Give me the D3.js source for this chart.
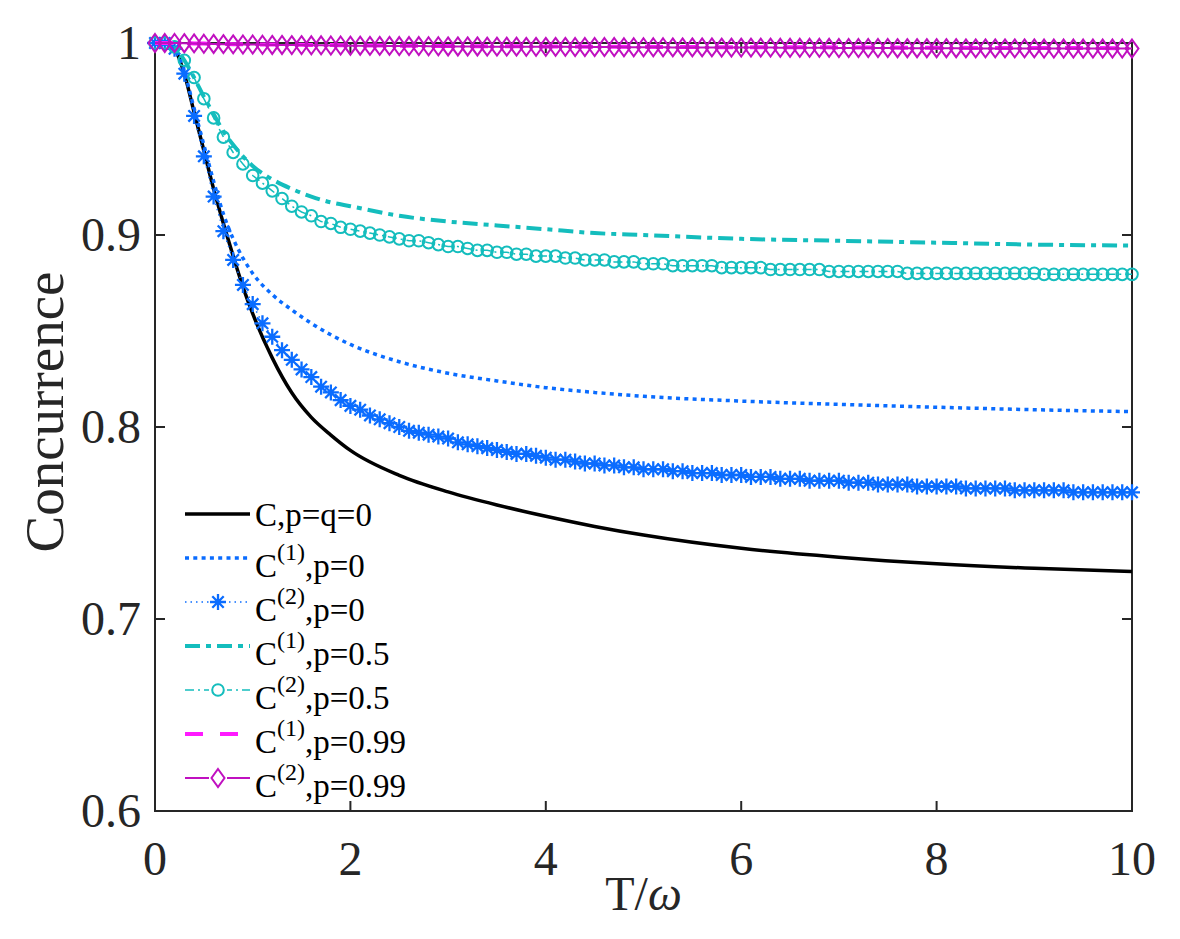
<!DOCTYPE html>
<html>
<head>
<meta charset="utf-8">
<script src="https://cdn.jsdelivr.net/npm/d3@7"></script>
<style>
  body { margin: 0; background: #fff; }
  svg { display: block; font-family: 'Liberation Serif', 'Times New Roman', 'DejaVu Serif', serif; }
</style>
</head>
<body>
<script>
// T/omega sample points
const tCoarse = [0, 0.1, 0.2, 0.3, 0.4, 0.5, 0.6, 0.7, 0.8, 0.9, 1, 1.2, 1.4, 1.6, 1.8, 2, 2.5, 3, 3.5, 4, 4.5, 5, 6, 7, 8, 9, 10]
const tFine = d3.range(101).map(i => i / 10)

// smooth curves, read at tCoarse
const cPq0 = [1, 1, 0.997, 0.984, 0.964, 0.944, 0.924, 0.906, 0.889, 0.873, 0.859, 0.836, 0.8178, 0.805, 0.7958, 0.7878, 0.7748, 0.7662, 0.7594, 0.7535, 0.7482, 0.7437, 0.7368, 0.7322, 0.7288, 0.7264, 0.7247]
const c1p0 = [1, 1, 0.997, 0.985, 0.966, 0.947, 0.928, 0.911, 0.898, 0.888, 0.880, 0.869, 0.861, 0.854, 0.848, 0.843, 0.834, 0.828, 0.824, 0.8205, 0.818, 0.816, 0.8135, 0.8118, 0.8103, 0.809, 0.808]
const c1p05 = [1, 1, 0.998, 0.991, 0.982, 0.972, 0.963, 0.954, 0.947, 0.941, 0.936, 0.929, 0.924, 0.920, 0.917, 0.915, 0.910, 0.907, 0.905, 0.903, 0.901, 0.900, 0.898, 0.897, 0.896, 0.895, 0.8945]
const c1p099 = [1, 1, 1, 0.9999, 0.9998, 0.9997, 0.9996, 0.9995, 0.9994, 0.9994, 0.9993, 0.9992, 0.9991, 0.9990, 0.9989, 0.9988, 0.9986, 0.9984, 0.9983, 0.9982, 0.9981, 0.9980, 0.9978, 0.9977, 0.9975, 0.9974, 0.9973]

// marker curves, read at tFine
const c2p0 = [
  1, 1, 0.997, 0.984, 0.962, 0.941, 0.920, 0.902, 0.887, 0.874,
  0.864, 0.854, 0.847, 0.840, 0.835, 0.830, 0.826, 0.821, 0.818, 0.814,
  0.811, 0.809, 0.806, 0.804, 0.802, 0.800, 0.798, 0.797, 0.796, 0.795,
  0.794, 0.792, 0.791, 0.790, 0.789, 0.788, 0.787, 0.786, 0.786, 0.785,
  0.784, 0.783, 0.783, 0.782, 0.781, 0.781, 0.780, 0.780, 0.779, 0.779,
  0.778, 0.778, 0.778, 0.777, 0.777, 0.776, 0.776, 0.776, 0.775, 0.775,
  0.775, 0.774, 0.774, 0.774, 0.773, 0.773, 0.773, 0.772, 0.772, 0.772,
  0.772, 0.771, 0.771, 0.771, 0.770, 0.770, 0.770, 0.770, 0.769, 0.769,
  0.769, 0.769, 0.769, 0.768, 0.768, 0.768, 0.768, 0.768, 0.767, 0.767,
  0.767, 0.767, 0.767, 0.767, 0.766, 0.766, 0.766, 0.766, 0.766, 0.766,
  0.766
]
const c2p05 = [
  1, 1, 0.998, 0.991, 0.982, 0.971, 0.961, 0.951, 0.943, 0.937,
  0.931, 0.927, 0.923, 0.919, 0.915, 0.912, 0.910, 0.907, 0.906, 0.904,
  0.903, 0.902, 0.901, 0.900, 0.899, 0.898, 0.897, 0.897, 0.896, 0.895,
  0.894, 0.894, 0.893, 0.892, 0.892, 0.891, 0.891, 0.890, 0.890, 0.889,
  0.889, 0.889, 0.888, 0.888, 0.887, 0.887, 0.887, 0.886, 0.886, 0.886,
  0.885, 0.885, 0.885, 0.884, 0.884, 0.884, 0.884, 0.884, 0.883, 0.883,
  0.883, 0.883, 0.883, 0.882, 0.882, 0.882, 0.882, 0.882, 0.882, 0.881,
  0.881, 0.881, 0.881, 0.881, 0.881, 0.881, 0.881, 0.880, 0.880, 0.880,
  0.880, 0.880, 0.880, 0.880, 0.880, 0.880, 0.880, 0.880, 0.880, 0.880,
  0.880, 0.8795, 0.8795, 0.8795, 0.8795, 0.8795, 0.8795, 0.8795, 0.8795, 0.8795,
  0.8795
]
const c2p099 = [
  1, 1, 1, 0.9999, 0.9998, 0.9996, 0.9995, 0.9994, 0.9993, 0.9992,
  0.9992, 0.9991, 0.9990, 0.9990, 0.9989, 0.9989, 0.9988, 0.9988, 0.9987, 0.9987,
  0.9986, 0.9986, 0.9985, 0.9985, 0.9985, 0.9984, 0.9984, 0.9984, 0.9983, 0.9983,
  0.9982, 0.9982, 0.9982, 0.9982, 0.9981, 0.9981, 0.9981, 0.9981, 0.9980, 0.9980,
  0.9980, 0.9980, 0.9980, 0.9979, 0.9979, 0.9979, 0.9979, 0.9979, 0.9978, 0.9978,
  0.9978, 0.9978, 0.9978, 0.9977, 0.9977, 0.9977, 0.9977, 0.9977, 0.9976, 0.9976,
  0.9976, 0.9976, 0.9976, 0.9976, 0.9975, 0.9975, 0.9975, 0.9975, 0.9975, 0.9975,
  0.9974, 0.9974, 0.9974, 0.9974, 0.9974, 0.9974, 0.9973, 0.9973, 0.9973, 0.9973,
  0.9973, 0.9973, 0.9973, 0.9972, 0.9972, 0.9972, 0.9972, 0.9972, 0.9972, 0.9972,
  0.9972, 0.9971, 0.9971, 0.9971, 0.9971, 0.9971, 0.9971, 0.9971, 0.9971, 0.9971,
  0.9971
]

const xTicks = [0, 2, 4, 6, 8, 10]
const yTicks = [0.6, 0.7, 0.8, 0.9, 1]
const legendLabels = [
  ['C,p=q=0', null, ''],
  ['C', '(1)', ',p=0'],
  ['C', '(2)', ',p=0'],
  ['C', '(1)', ',p=0.5'],
  ['C', '(2)', ',p=0.5'],
  ['C', '(1)', ',p=0.99'],
  ['C', '(2)', ',p=0.99']
]

const width = 1180
const height = 939
const plotLeft = 155
const plotRight = 1132
const plotTop = 43
const plotBottom = 811

const blue = '#0a6cff'
const cyan = '#14bdbd'
const magenta = '#ff1aff'
const purple = '#c010c0'
const axisColor = '#262626'

const x = d3.scaleLinear().domain([0, 10]).range([plotLeft, plotRight])
const y = d3.scaleLinear().domain([0.6, 1]).range([plotBottom, plotTop])

const svg = d3.select('body')
  .append('svg')
  .attr('width', width)
  .attr('height', height)

// box + inward ticks
const axisG = svg.append('g')
  .attr('stroke', axisColor)
  .attr('stroke-width', 2)
  .attr('fill', 'none')
axisG.append('rect')
  .attr('x', plotLeft)
  .attr('y', plotTop)
  .attr('width', plotRight - plotLeft)
  .attr('height', plotBottom - plotTop)
xTicks.forEach(t => {
  axisG.append('line').attr('x1', x(t)).attr('x2', x(t)).attr('y1', plotBottom).attr('y2', plotBottom - 10)
  axisG.append('line').attr('x1', x(t)).attr('x2', x(t)).attr('y1', plotTop).attr('y2', plotTop + 10)
})
yTicks.forEach(v => {
  axisG.append('line').attr('x1', plotLeft).attr('x2', plotLeft + 10).attr('y1', y(v)).attr('y2', y(v))
  axisG.append('line').attr('x1', plotRight).attr('x2', plotRight - 10).attr('y1', y(v)).attr('y2', y(v))
})

svg.append('g')
  .selectAll('text')
  .data(xTicks)
  .enter()
  .append('text')
  .attr('x', d => x(d))
  .attr('y', 875)
  .attr('text-anchor', 'middle')
  .attr('font-size', 48)
  .attr('fill', axisColor)
  .text(d => d)

svg.append('g')
  .selectAll('text')
  .data(yTicks)
  .enter()
  .append('text')
  .attr('x', 141)
  .attr('y', d => y(d) + 16)
  .attr('text-anchor', 'end')
  .attr('font-size', 48)
  .attr('fill', axisColor)
  .text(d => d === 1 ? '1' : d.toFixed(1))

const xLabel = svg.append('text')
  .attr('x', (plotLeft + plotRight) / 2)
  .attr('y', 910)
  .attr('text-anchor', 'middle')
  .attr('font-size', 48)
  .attr('fill', axisColor)
xLabel.append('tspan').text('T/')
xLabel.append('tspan').attr('font-style', 'italic').text('ω')

svg.append('text')
  .attr('transform', 'translate(63,412) rotate(-90)')
  .attr('text-anchor', 'middle')
  .attr('font-size', 55)
  .attr('fill', axisColor)
  .text('Concurrence')

// series
const smooth = d3.line()
  .x(d => x(d[0]))
  .y(d => y(d[1]))
  .curve(d3.curveMonotoneX)
const straight = d3.line()
  .x(d => x(d[0]))
  .y(d => y(d[1]))

const starPath = 'M-8,0H8M0,-8V8M-5.7,-5.7L5.7,5.7M-5.7,5.7L5.7,-5.7'
const diamondPath = 'M0,-9L6.5,0L0,9L-6.5,0Z'

const series = [
  { t: tCoarse, v: cPq0, color: '#000', width: 3.5, dash: null, line: smooth },
  { t: tCoarse, v: c1p0, color: blue, width: 3.5, dash: '4,4.3', line: smooth },
  { t: tFine, v: c2p0, color: blue, width: 1.5, dash: '1.5,4', line: straight, marker: 'star' },
  { t: tCoarse, v: c1p05, color: cyan, width: 4, dash: '15,6,5,6', line: smooth },
  { t: tFine, v: c2p05, color: cyan, width: 1.5, dash: '9,4,2,4', line: straight, marker: 'circle' },
  { t: tCoarse, v: c1p099, color: magenta, width: 4, dash: '18,17', line: smooth },
  { t: tFine, v: c2p099, color: purple, width: 2, dash: null, line: straight, marker: 'diamond' }
]

function drawMarker (g, kind, color) {
  if (kind === 'star') {
    g.append('path').attr('d', starPath).attr('stroke', color).attr('stroke-width', 2.3).attr('fill', 'none')
  } else if (kind === 'circle') {
    g.append('circle').attr('r', 5.8).attr('stroke', color).attr('stroke-width', 2).attr('fill', 'none')
  } else if (kind === 'diamond') {
    g.append('path').attr('d', diamondPath).attr('stroke', color).attr('stroke-width', 2).attr('fill', 'none')
  }
}

const plotG = svg.append('g')
series.forEach(s => {
  const pts = s.t.map((t, i) => [t, s.v[i]])
  plotG.append('path')
    .datum(pts)
    .attr('d', s.line)
    .attr('fill', 'none')
    .attr('stroke', s.color)
    .attr('stroke-width', s.width)
    .attr('stroke-dasharray', s.dash)
  if (s.marker) {
    pts.forEach(p => {
      const m = plotG.append('g').attr('transform', `translate(${x(p[0])},${y(p[1])})`)
      drawMarker(m, s.marker, s.color)
    })
  }
})

// legend
const legendG = svg.append('g')
series.forEach((s, i) => {
  const rowY = 514 + i * 44
  const row = legendG.append('g').attr('transform', `translate(0,${rowY})`)
  row.append('line')
    .attr('x1', 185)
    .attr('x2', 250)
    .attr('y1', 0)
    .attr('y2', 0)
    .attr('stroke', s.color)
    .attr('stroke-width', s.width)
    .attr('stroke-dasharray', s.dash)
  if (s.marker) {
    const m = row.append('g').attr('transform', 'translate(218,0)')
    m.append('rect').attr('x', -9).attr('y', -10).attr('width', 18).attr('height', 20).attr('fill', '#fff')
    drawMarker(m, s.marker, s.color)
  }
  const lab = legendLabels[i]
  const txt = row.append('text')
    .attr('x', 255)
    .attr('y', lab[1] ? 19 : 12)
    .attr('font-size', 33)
    .attr('fill', '#000')
  txt.append('tspan').text(lab[0])
  if (lab[1]) {
    txt.append('tspan').attr('font-size', 24).attr('dy', -17).text(lab[1])
    txt.append('tspan').attr('dy', 17).text(lab[2])
  }
})
</script>
</body>
</html>
